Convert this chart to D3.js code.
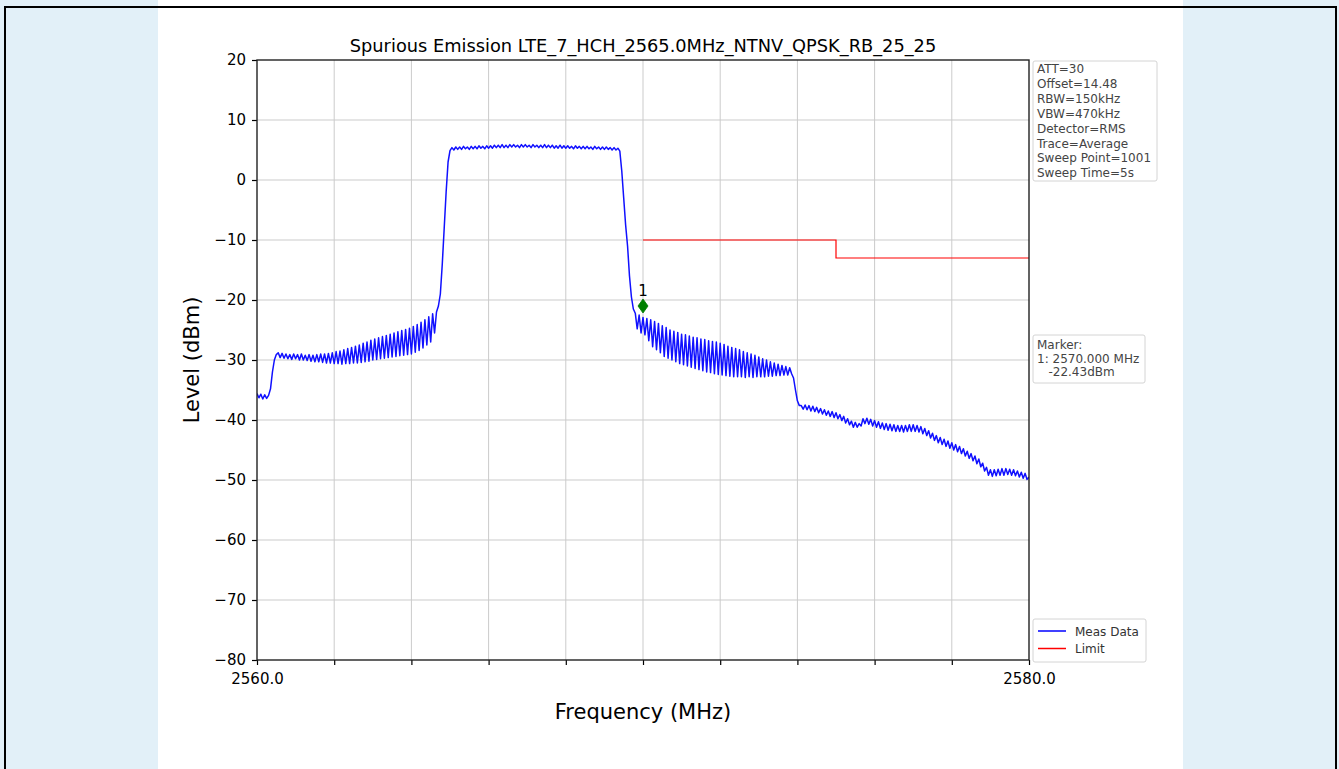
<!DOCTYPE html>
<html>
<head>
<meta charset="utf-8">
<script src="https://cdn.jsdelivr.net/npm/d3@7"></script>
<style>
html,body{margin:0;padding:0;background:#fff;}
svg{display:block;}
text{font-family:"DejaVu Sans",sans-serif;}
</style>
</head>
<body>
<svg id="chart" width="1339" height="769"></svg>
<script>
// ---------- data ----------
const chartTitle = "Spurious Emission LTE_7_HCH_2565.0MHz_NTNV_QPSK_RB_25_25";
const freqStart = 2560.0;   // MHz, first sweep point
const freqStep = 0.05;      // MHz between trace points
const measLevel = [
-35.6,-36.3,-35.7,-36.5,-35.8,-36.4,-35.9,-34.8,-32.0,-30.0,-29.1,
-28.8,-29.6,-28.9,-29.7,-29.0,-29.8,-29.1,-29.9,-29.0,-29.8,
-29.1,-30.0,-29.0,-30.0,-29.2,-30.1,-29.1,-30.2,-29.2,-30.3,
-29.1,-30.3,-29.0,-30.4,-29.0,-30.5,-28.9,-30.5,-28.8,-30.6,
-28.6,-30.6,-28.5,-30.7,-28.3,-30.6,-28.1,-30.6,-27.9,-30.5,
-27.7,-30.5,-27.5,-30.4,-27.2,-30.3,-27.0,-30.2,-26.7,-30.0,
-26.5,-29.9,-26.3,-29.8,-26.1,-29.7,-25.9,-29.6,-25.7,-29.5,
-25.5,-29.4,-25.3,-29.3,-25.1,-29.2,-24.9,-29.1,-24.7,-29.0,
-24.4,-28.7,-24.1,-28.4,-23.7,-28.0,-23.3,-27.5,-22.8,-27.0,
-22.3,-25.5,-22.0,-21.0,-19.0,-14.0,-8.0,-2.0,3.0,4.9,
5.4,5.0,5.5,5.1,5.5,5.1,5.6,5.2,5.5,5.1,
5.6,5.2,5.6,5.2,5.7,5.3,5.6,5.2,5.7,5.3,
5.7,5.3,5.8,5.4,5.8,5.4,5.9,5.4,5.8,5.4,
5.9,5.5,5.9,5.5,5.8,5.4,5.9,5.5,5.9,5.5,
5.8,5.4,5.9,5.5,5.8,5.4,5.8,5.4,5.9,5.4,
5.8,5.4,5.8,5.3,5.7,5.3,5.8,5.3,5.7,5.3,
5.7,5.3,5.6,5.2,5.7,5.3,5.6,5.2,5.6,5.2,
5.6,5.2,5.5,5.1,5.6,5.2,5.5,5.1,5.5,5.1,
5.5,5.1,5.4,5.0,5.4,5.0,5.3,4.8,1.5,-3.0,
-7.5,-11.0,-16.0,-19.5,-21.5,-22.2,-24.8,-22.5,-25.5,-22.9,
-25.8,-23.1,-26.8,-23.3,-27.8,-23.6,-28.3,-23.9,-28.8,-24.3,
-29.4,-24.6,-29.7,-25.0,-30.0,-25.2,-30.3,-25.4,-30.6,-25.7,
-30.8,-25.8,-31.0,-26.0,-31.2,-26.2,-31.4,-26.3,-31.6,-26.5,
-31.8,-26.6,-32.0,-26.8,-32.1,-26.9,-32.3,-27.0,-32.4,-27.2,
-32.5,-27.4,-32.6,-27.7,-32.7,-27.9,-32.8,-28.1,-32.8,-28.3,
-32.8,-28.6,-32.9,-28.8,-32.8,-29.0,-32.9,-29.2,-32.8,-29.5,
-32.8,-29.8,-32.8,-30.0,-32.7,-30.3,-32.7,-30.5,-32.6,-30.7,
-32.6,-30.9,-32.5,-31.1,-32.5,-31.3,-32.3,-33.0,-35.0,-36.8,
-37.6,-37.6,-38.2,-37.5,-38.3,-37.6,-38.5,-37.7,-38.6,-37.9,
-38.8,-38.1,-39.0,-38.3,-39.2,-38.5,-39.4,-38.6,-39.6,-38.8,
-39.8,-39.1,-40.1,-39.4,-40.5,-39.8,-40.8,-40.2,-41.2,-40.4,
-41.2,-40.6,-41.0,-39.8,-40.6,-39.7,-40.7,-39.9,-41.0,-40.1,
-41.2,-40.3,-41.4,-40.5,-41.6,-40.6,-41.7,-40.7,-41.8,-40.8,
-41.9,-40.9,-41.9,-40.9,-42.0,-40.9,-41.9,-40.8,-41.9,-40.8,
-41.9,-40.9,-42.0,-41.1,-42.3,-41.4,-42.6,-41.8,-43.0,-42.2,
-43.4,-42.6,-43.8,-42.9,-44.1,-43.2,-44.4,-43.5,-44.7,-43.8,
-45.0,-44.1,-45.3,-44.4,-45.6,-44.8,-46.0,-45.2,-46.4,-45.6,
-46.8,-46.0,-47.3,-46.5,-47.8,-47.2,-48.5,-47.9,-49.2,-48.3,
-49.4,-48.3,-49.3,-48.2,-49.2,-48.1,-49.2,-48.1,-49.1,-48.2,
-49.2,-48.3,-49.3,-48.5,-49.5,-48.7,-49.7,-48.9,-49.9,-49.5
];
const limitFreq  = [2570, 2575, 2575, 2580];
const limitLevel = [-10, -10, -13, -13];
const markerFreq = [2570.0];
const markerLevel = [-21.0];
const markerLabel = ["1"];
const xTicks = [2560,2562,2564,2566,2568,2570,2572,2574,2576,2578,2580];
const xTickLabels = {2560:"2560.0", 2580:"2580.0"};
const yTicks = [20,10,0,-10,-20,-30,-40,-50,-60,-70,-80];
const infoLines = ["ATT=30","Offset=14.48","RBW=150kHz","VBW=470kHz","Detector=RMS","Trace=Average","Sweep Point=1001","Sweep Time=5s"];
const markerInfo = ["Marker:","1: 2570.000 MHz","   -22.43dBm"];
const legendItems = [{name:"Meas Data", color:"#0000ff"},{name:"Limit", color:"#ff0000"}];

// ---------- layout ----------
const svg = d3.select("#chart");
const W = 1339, H = 769;
const plot = {left:257, right:1029, top:60, bottom:660};

// page background
svg.append("rect").attr("x",0).attr("y",0).attr("width",W).attr("height",H).attr("fill","#e2f0f8");
svg.append("rect").attr("x",158).attr("y",0).attr("width",1183-158).attr("height",H).attr("fill","#ffffff");
svg.append("rect").attr("x",5).attr("y",7).attr("width",1331).attr("height",H+10)
  .attr("fill","none").attr("stroke","#000").attr("stroke-width",2);

const x = d3.scaleLinear().domain([2560,2580]).range([plot.left, plot.right]);
const y = d3.scaleLinear().domain([-80,20]).range([plot.bottom, plot.top]);

// grid
const g = svg.append("g");
g.selectAll(".gx").data(xTicks.slice(1,-1)).enter().append("line")
  .attr("x1",d=>x(d)).attr("x2",d=>x(d)).attr("y1",plot.top).attr("y2",plot.bottom)
  .attr("stroke","#cbcbcb").attr("stroke-width",1);
g.selectAll(".gy").data(yTicks.slice(1,-1)).enter().append("line")
  .attr("y1",d=>y(d)).attr("y2",d=>y(d)).attr("x1",plot.left).attr("x2",plot.right)
  .attr("stroke","#cbcbcb").attr("stroke-width",1);

// trace
const trace = measLevel.map((v,i)=>[freqStart + i*freqStep, v]);
svg.append("clipPath").attr("id","clip").append("rect")
  .attr("x",plot.left).attr("y",plot.top).attr("width",plot.right-plot.left).attr("height",plot.bottom-plot.top);
const line = d3.line().x(d=>x(d[0])).y(d=>y(d[1]));
svg.append("path").datum(trace).attr("d",line).attr("fill","none")
  .attr("stroke","#1010ff").attr("stroke-width",1.5).attr("stroke-linejoin","round")
  .attr("clip-path","url(#clip)");

// limit
const limitData = limitFreq.map((f,i)=>[f, limitLevel[i]]);
svg.append("path").datum(limitData).attr("d",line).attr("fill","none")
  .attr("stroke","#ff0000").attr("stroke-width",1.2);

// marker
markerFreq.forEach((f,i)=>{
  const mx = x(f), my = y(markerLevel[i]);
  svg.append("path").attr("d",`M${mx},${my-7} L${mx+5},${my} L${mx},${my+7} L${mx-5},${my} Z`)
    .attr("fill","#008000").attr("stroke","#008000").attr("stroke-width",0.8);
  svg.append("text").attr("x",mx).attr("y",my-10).attr("text-anchor","middle")
    .attr("font-size",15).attr("fill","#000").text(markerLabel[i]);
});

// axes
const xAxis = d3.axisBottom(x).tickValues(xTicks).tickSize(5).tickPadding(8)
  .tickFormat(d=>xTickLabels[d] || "");
const xg = svg.append("g").attr("transform",`translate(0,${plot.bottom})`).call(xAxis);
xg.select(".domain").remove();
xg.selectAll("line").attr("stroke","#000").attr("stroke-width",1.2);
xg.selectAll("text").attr("font-size",15).attr("fill","#000").attr("font-family","DejaVu Sans");

const yAxis = d3.axisLeft(y).tickValues(yTicks).tickSize(5).tickPadding(6)
  .tickFormat(d=>d3.format("")(d).replace("-","\u2212"));
const yg = svg.append("g").attr("transform",`translate(${plot.left},0)`).call(yAxis);
yg.select(".domain").remove();
yg.selectAll("line").attr("stroke","#000").attr("stroke-width",1.2);
yg.selectAll("text").attr("font-size",15).attr("fill","#000").attr("font-family","DejaVu Sans");

// frame
svg.append("rect").attr("x",plot.left).attr("y",plot.top)
  .attr("width",plot.right-plot.left).attr("height",plot.bottom-plot.top)
  .attr("fill","none").attr("stroke","#222").attr("stroke-width",1.4);

// titles
svg.append("text").attr("x",(plot.left+plot.right)/2).attr("y",52).attr("text-anchor","middle")
  .attr("font-size",17.8).attr("fill","#000").text(chartTitle);
svg.append("text").attr("x",(plot.left+plot.right)/2).attr("y",719).attr("text-anchor","middle")
  .attr("font-size",21).attr("fill","#000").text("Frequency (MHz)");
svg.append("text").attr("transform",`translate(199,${(plot.top+plot.bottom)/2}) rotate(-90)`)
  .attr("text-anchor","middle").attr("font-size",21).attr("fill","#000").text("Level (dBm)");

// info box
function box(x0,y0,w,h){
  svg.append("rect").attr("x",x0).attr("y",y0).attr("width",w).attr("height",h).attr("rx",2)
    .attr("fill","#fff").attr("fill-opacity",0.85).attr("stroke","#d4d4d4").attr("stroke-width",1);
}
box(1033,61,124,120);
svg.append("g").selectAll("text").data(infoLines).enter().append("text")
  .attr("x",1037).attr("y",(d,i)=>73+i*14.9).attr("font-size",12).attr("fill","#444").text(d=>d);

box(1033,335,112,48);
svg.append("g").selectAll("text").data(markerInfo).enter().append("text")
  .attr("x",1037).attr("y",(d,i)=>349+i*13.5).attr("font-size",12).attr("fill","#444")
  .attr("xml:space","preserve").style("white-space","pre").text(d=>d);

// legend
box(1033,619,113,43);
const lg = svg.append("g");
legendItems.forEach((it,i)=>{
  const ly = 631 + i*17.5;
  lg.append("line").attr("x1",1038).attr("x2",1066).attr("y1",ly).attr("y2",ly)
    .attr("stroke",it.color).attr("stroke-width",1.5);
  lg.append("text").attr("x",1075).attr("y",ly+4.5).attr("font-size",12).attr("fill","#333").text(it.name);
});
</script>
</body>
</html>
